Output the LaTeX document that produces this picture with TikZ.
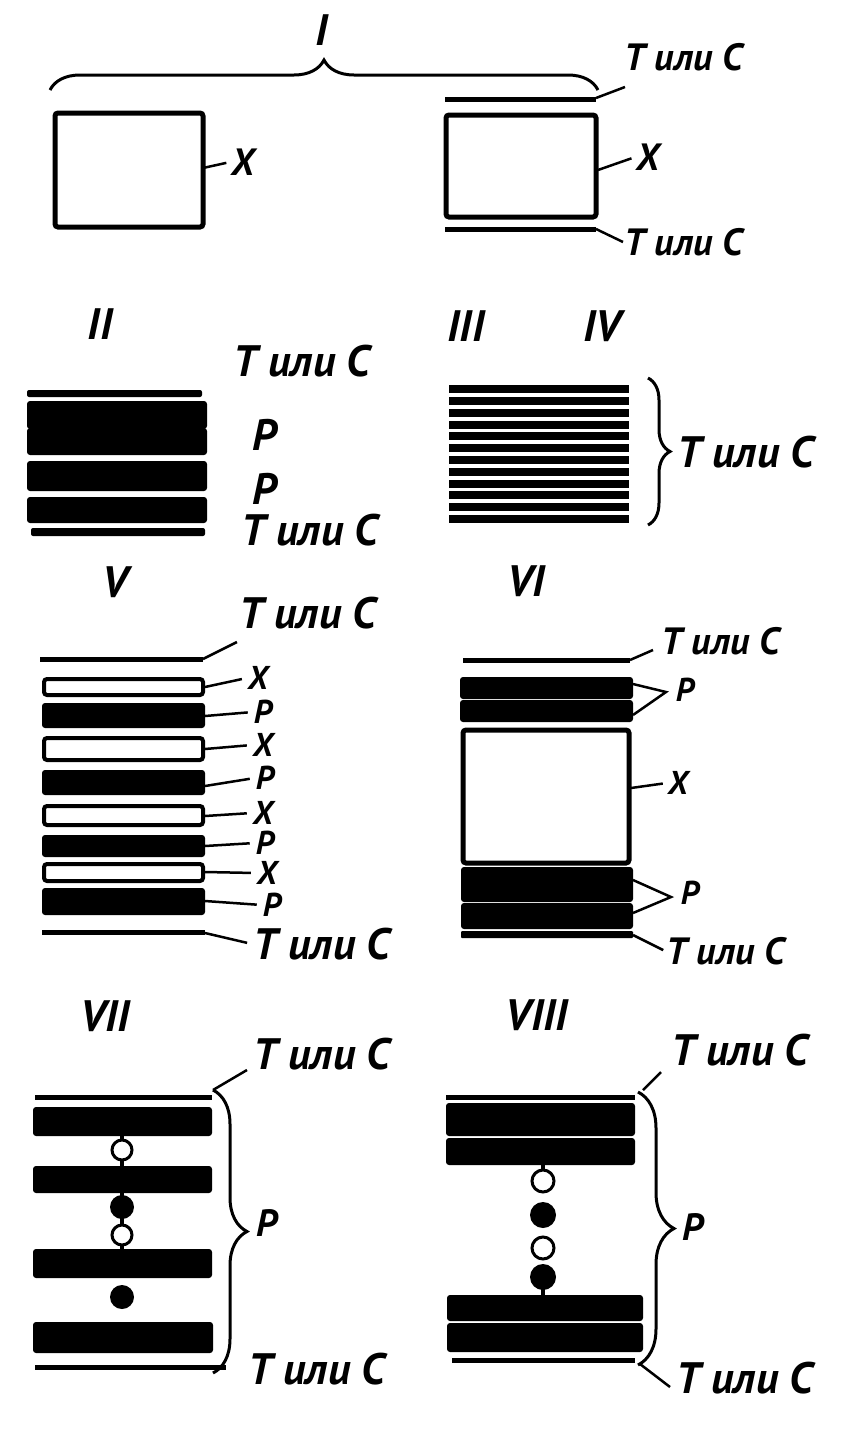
\documentclass[tikz,border=0pt]{standalone}
\usepackage{fontspec}
\setmainfont{PT Sans}
\usetikzlibrary{decorations.pathreplacing}

\begin{document}
\begin{tikzpicture}[x=1pt, y=-1pt,
  lbl/.style={font={\bfseries\itshape\fontsize{44}{48}\selectfont}, inner sep=1pt},
  mid/.style={font={\bfseries\itshape\fontsize{38}{42}\selectfont}, inner sep=1pt},
  sml/.style={font={\bfseries\itshape\fontsize{33}{36}\selectfont}, inner sep=1pt},
  tbar/.style={line width=5pt},
  lead/.style={line width=2.5pt},
  player/.style={fill=black, rounded corners=3pt},
  xlayer/.style={draw, fill=white, line width=4pt, rounded corners=3pt},
  brc/.style={decorate, decoration={brace, amplitude=#1}, line width=3pt},
  brc/.default=30]
  \path[use as bounding box, fill=white] (0,0) rectangle (846,1430);

  %% I
  \node[lbl] (nI) at (322,30) {I};
  \draw[brc=30] (50,90) -- (598,90);
  \draw[tbar, rounded corners=3pt] (55,113) rectangle (203,227);
  \coordinate (a1) at (203,168);
  \node[mid] (X1) at (243,162) {Х};
  \draw[lead, shorten >=4pt] (a1) -- (X1.west);
  \draw[tbar] (445,99) -- (596,99);
  \draw[tbar, rounded corners=3pt] (446,115) rectangle (596,217);
  \draw[tbar] (445,229) -- (596,229);
  \coordinate (b1) at (596,98);
  \coordinate (b2) at (625,87);
  \coordinate (b3) at (598,170);
  \coordinate (b4) at (596,229);
  \node[mid, anchor=west] (T1) at (623,57) {Т или С};
  \node[mid, anchor=west] (T2) at (623,242) {Т или С};
  \node[mid] (X2) at (648,157) {Х};
  \draw[lead] (b1) -- (b2);
  \draw[lead, shorten >=4pt] (b3) -- (X2.west);
  \draw[lead] (b4) -- (T2.west);

  %% II
  \node[lbl] (nII) at (100,324) {II};
  \fill[player, rounded corners=2pt] (27,390) rectangle (202,397);
  \fill[player] (27,401) rectangle (207,429);
  \fill[player] (27,428) rectangle (207,455);
  \fill[player] (27,461) rectangle (207,491);
  \fill[player] (27,497) rectangle (207,523);
  \fill[player, rounded corners=2pt] (31,528) rectangle (205,536);
  \node[lbl, anchor=west] (T3) at (232,361) {Т или С};
  \node[lbl] (P1) at (265,435) {Р};
  \node[lbl] (P2) at (265,489) {Р};
  \node[lbl, anchor=west] (T4) at (240,530) {Т или С};

  %% III, IV
  \node[lbl] (nIII) at (466,326) {III};
  \node[lbl] (nIV) at (602,326) {IV};
  \draw[line width=7.5pt] (449,389) -- (629,389);
  \draw[line width=7.5pt] (449,401) -- (629,401);
  \draw[line width=7.5pt] (449,413) -- (629,413);
  \draw[line width=7.5pt] (449,425) -- (629,425);
  \draw[line width=7.5pt] (449,436) -- (629,436);
  \draw[line width=7.5pt] (449,448) -- (629,448);
  \draw[line width=7.5pt] (449,460) -- (629,460);
  \draw[line width=7.5pt] (449,472) -- (629,472);
  \draw[line width=7.5pt] (449,484) -- (629,484);
  \draw[line width=7.5pt] (449,495) -- (629,495);
  \draw[line width=7.5pt] (449,507) -- (629,507);
  \draw[line width=7.5pt] (449,519) -- (629,519);
  \draw[brc=22] (648,378) -- (648,525);
  \node[lbl, anchor=west] (T5) at (676,452) {Т или С};

  %% V
  \node[lbl] (nV) at (115,582) {V};
  \draw[tbar] (40,659) -- (203,659);
  \coordinate (v0) at (203,659);
  \coordinate (v1) at (237,642);
  \draw[lead] (v0) -- (v1);
  \node[lbl, anchor=west] (T6) at (238,613) {Т или С};
  \draw[xlayer] (44,679) rectangle (203,695);
  \fill[player] (42,703) rectangle (205,728);
  \draw[xlayer] (44,738) rectangle (203,760);
  \fill[player] (42,770) rectangle (205,795);
  \draw[xlayer] (44,806) rectangle (203,825);
  \fill[player] (42,835) rectangle (205,857);
  \draw[xlayer] (44,864) rectangle (203,881);
  \fill[player] (42,888) rectangle (205,915);
  \draw[tbar] (42,932) -- (205,932);
  \coordinate (c1) at (205,687);
  \coordinate (c2) at (205,716);
  \coordinate (c3) at (205,749);
  \coordinate (c4) at (205,786);
  \coordinate (c5) at (205,816);
  \coordinate (c6) at (205,846);
  \coordinate (c7) at (205,872);
  \coordinate (c8) at (205,901);
  \coordinate (c9) at (205,933);
  \node[sml] (X3) at (258,678) {Х};
  \node[sml] (P3) at (263,712) {Р};
  \node[sml] (X4) at (263,745) {Х};
  \node[sml] (P4) at (265,778) {Р};
  \node[sml] (X5) at (263,813) {Х};
  \node[sml] (P5) at (265,843) {Р};
  \node[sml] (X6) at (267,873) {Х};
  \node[sml] (P6) at (272,905) {Р};
  \node[lbl, anchor=west] (T7) at (252,944) {Т или С};
  \draw[lead, shorten >=5pt] (c1) -- (X3.west);
  \draw[lead, shorten >=5pt] (c2) -- (P3.west);
  \draw[lead, shorten >=5pt] (c3) -- (X4.west);
  \draw[lead, shorten >=5pt] (c4) -- (P4.west);
  \draw[lead, shorten >=5pt] (c5) -- (X5.west);
  \draw[lead, shorten >=5pt] (c6) -- (P5.west);
  \draw[lead, shorten >=5pt] (c7) -- (X6.west);
  \draw[lead, shorten >=5pt] (c8) -- (P6.west);
  \draw[lead, shorten >=5pt] (c9) -- (T7.west);

  %% VI
  \node[lbl] (nVI) at (526,581) {VI};
  \draw[tbar] (463,660) -- (630,660);
  \fill[player] (460,677) rectangle (633,699);
  \fill[player] (460,700) rectangle (633,722);
  \draw[tbar, rounded corners=3pt, fill=white] (463,730) rectangle (629,863);
  \fill[player] (461,867) rectangle (633,902);
  \fill[player] (461,903) rectangle (633,929);
  \fill[player, rounded corners=1pt] (461,931) rectangle (633,938);
  \coordinate (w0) at (630,660);
  \coordinate (w1) at (653,650);
  \coordinate (w2) at (633,684);
  \coordinate (w3) at (666,692);
  \coordinate (w4) at (633,715);
  \coordinate (w5) at (631,788);
  \coordinate (w6) at (633,880);
  \coordinate (w7) at (671,897);
  \coordinate (w8) at (633,913);
  \coordinate (w9) at (633,935);
  \node[mid, anchor=west] (T8) at (660,641) {Т или С};
  \node[sml] (P7) at (685,690) {Р};
  \node[sml] (X7) at (678,783) {Х};
  \node[sml] (P8) at (690,893) {Р};
  \node[mid, anchor=west] (T9) at (665,951) {Т или С};
  \draw[lead] (w0) -- (w1);
  \draw[lead] (w2) -- (w3) -- (w4);
  \draw[lead, shorten >=4pt] (w5) -- (X7.west);
  \draw[lead] (w6) -- (w7) -- (w8);
  \draw[lead, shorten >=2pt] (w9) -- (T9.west);

  %% VII
  \node[lbl] (nVII) at (105,1016) {VII};
  \draw[tbar] (35,1097) -- (212,1097);
  \fill[player] (33,1107) rectangle (212,1136);
  \fill[player] (33,1166) rectangle (212,1193);
  \fill[player] (33,1249) rectangle (212,1278);
  \fill[player] (33,1322) rectangle (213,1353);
  \draw[line width=4pt] (122,1136) -- (122,1166);
  \draw[line width=4pt] (122,1193) -- (122,1249);
  \draw[line width=3pt, fill=white] (122,1150) circle[radius=10pt];
  \fill (122,1207) circle[radius=12pt];
  \draw[line width=3pt, fill=white] (122,1235) circle[radius=10pt];
  \fill (122,1297) circle[radius=12pt];
  \draw[tbar] (35,1367) -- (226,1367);
  \draw[brc=34] (213,1090) -- (213,1373);
  \coordinate (s0) at (213,1090);
  \coordinate (s1) at (247,1070);
  \draw[lead] (s0) -- (s1);
  \node[lbl, anchor=west] (T10) at (252,1054) {Т или С};
  \node[mid] (P9) at (267,1223) {Р};
  \node[lbl, anchor=west] (T11) at (247,1369) {Т или С};

  %% VIII
  \node[lbl] (nVIII) at (537,1015) {VIII};
  \draw[tbar] (446,1097) -- (635,1097);
  \fill[player] (446,1103) rectangle (635,1136);
  \fill[player] (446,1138) rectangle (635,1165);
  \draw[line width=4pt] (543,1164) -- (543,1172);
  \draw[line width=4pt] (543,1285) -- (543,1296);
  \draw[line width=3pt, fill=white] (543,1181) circle[radius=11pt];
  \fill (543,1215) circle[radius=13pt];
  \draw[line width=3pt, fill=white] (543,1248) circle[radius=11pt];
  \fill (543,1277) circle[radius=13pt];
  \fill[player] (447,1295) rectangle (643,1321);
  \fill[player] (447,1323) rectangle (643,1352);
  \draw[tbar] (452,1360) -- (635,1360);
  \draw[brc=36] (638,1092) -- (638,1365);
  \coordinate (u0) at (643,1090);
  \coordinate (u1) at (661,1072);
  \coordinate (u2) at (640,1364);
  \coordinate (u3) at (670,1387);
  \draw[lead] (u0) -- (u1);
  \draw[lead] (u2) -- (u3);
  \node[lbl, anchor=west] (T12) at (670,1050) {Т или С};
  \node[mid] (P10) at (693,1227) {Р};
  \node[lbl, anchor=west] (T13) at (675,1378) {Т или С};

\end{tikzpicture}
\end{document}
